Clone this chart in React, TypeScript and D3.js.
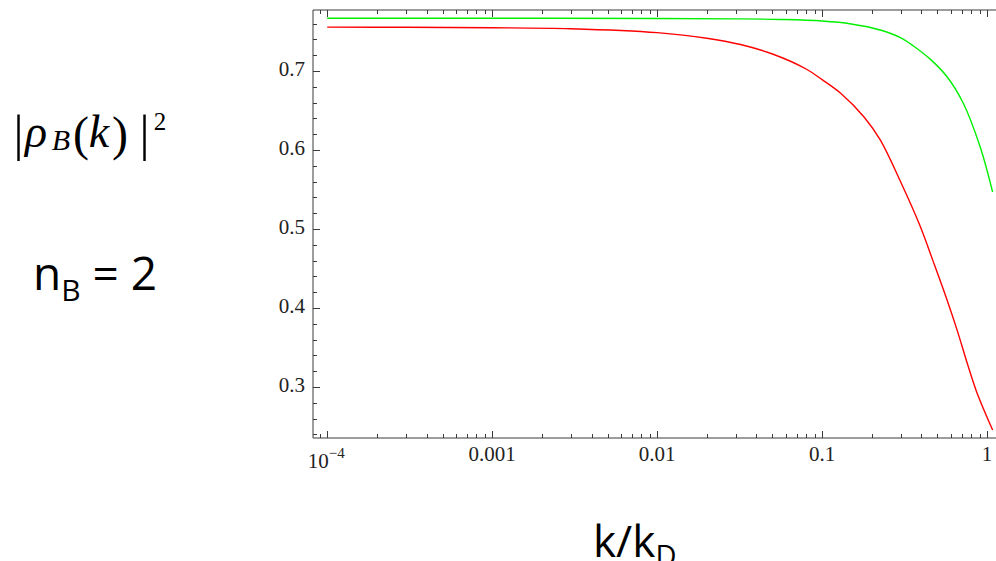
import React from 'react';
import * as d3 from 'd3';

// ---- data ----
const xMajorTicks = [1e-4, 1e-3, 1e-2, 1e-1, 1];
const xMajorLabels = ['10^-4', '0.001', '0.01', '0.1', '1'];
const yMajorTicks = [0.3, 0.4, 0.5, 0.6, 0.7];
const yMajorLabels = ['0.3', '0.4', '0.5', '0.6', '0.7'];

const kRed = [1e-4, 3e-4, 1e-3, 3e-3, 1e-2, 2e-2, 3.2e-2, 5e-2, 8e-2, 0.1, 0.13, 0.18, 0.225, 0.297, 0.393, 0.471, 0.573, 0.658, 0.757, 0.869, 1.08];
const rhoRed = [0.7555, 0.7553, 0.7548, 0.7535, 0.7485, 0.7415, 0.7335, 0.7215, 0.7025, 0.689, 0.6715, 0.6415, 0.6127, 0.561, 0.5035, 0.459, 0.4095, 0.372, 0.3304, 0.2924, 0.2456];

const kGreen = [1e-4, 1e-3, 1e-2, 3e-2, 5.6e-2, 0.1, 0.15, 0.225, 0.3, 0.356, 0.452, 0.573, 0.716, 0.908, 1.08];
const rhoGreen = [0.7667, 0.7667, 0.7665, 0.766, 0.7652, 0.7632, 0.7595, 0.7519, 0.742, 0.732, 0.715, 0.6924, 0.6595, 0.6038, 0.5468];

const xDomain = [8.2e-5, 1.32];
const yDomain = [0.2354, 0.7772];

const W = 996;
const H = 561;
const PL = 313, PR = 1007, PT = 10, PB = 438;

const AXIS = '#3a3a3a';
const TICK_FONT = '"Liberation Serif", "Times New Roman", serif';
const MATH_FONT = '"Liberation Serif", "DejaVu Serif", serif';
const SANS = '"Open Sans", "Noto Sans", sans-serif';

export default function App() {
  const x = d3.scaleLog().domain(xDomain).range([PL, PR]);
  const y = d3.scaleLinear().domain(yDomain).range([PB, PT]);

  const line = d3
    .line<[number, number]>()
    .x((d) => x(d[0]))
    .y((d) => y(d[1]))
    .curve(d3.curveCatmullRom.alpha(0.5));

  const redPts: [number, number][] = kRed.map((k, i) => [k, rhoRed[i]]);
  const greenPts: [number, number][] = kGreen.map((k, i) => [k, rhoGreen[i]]);

  const xAll = x.ticks();
  const isXMajor = (v: number) => Math.abs(Math.log10(v) - Math.round(Math.log10(v))) < 1e-9;
  const yAll = d3.ticks(yDomain[0], yDomain[1], 27);
  const isYMajor = (v: number) => Math.abs(v * 10 - Math.round(v * 10)) < 1e-6;

  const MAJ = 7;
  const MIN = 4;

  return (
    <svg
      width={W}
      height={H}
      style={{ position: 'absolute', left: 0, top: 0, background: '#fff' }}
    >
      <rect x={0} y={0} width={W} height={H} fill="#fff" />

      {/* curves */}
      <path d={line(redPts) || ''} fill="none" stroke="#ff0000" strokeWidth={1.4} />
      <path d={line(greenPts) || ''} fill="none" stroke="#00f000" strokeWidth={1.4} />

      {/* frame */}
      <line x1={PL} x2={PL} y1={PT} y2={PB} stroke={AXIS} strokeWidth={1} />
      <line x1={PL} x2={PR} y1={PB} y2={PB} stroke={AXIS} strokeWidth={1} />
      <line x1={PL} x2={PR} y1={PT} y2={PT} stroke={AXIS} strokeWidth={1} />
      <line x1={PR} x2={PR} y1={PT} y2={PB} stroke={AXIS} strokeWidth={1} />

      {/* x ticks bottom & top */}
      {xAll.map((v, i) => {
        const len = isXMajor(v) ? MAJ : MIN;
        const xx = Math.round(x(v)) + 0.5;
        return (
          <g key={'xt' + i}>
            <line x1={xx} x2={xx} y1={PB} y2={PB - len} stroke={AXIS} strokeWidth={1} />
            <line x1={xx} x2={xx} y1={PT} y2={PT + len} stroke={AXIS} strokeWidth={1} />
          </g>
        );
      })}

      {/* y ticks */}
      {yAll.map((v, i) => {
        const len = isYMajor(v) ? MAJ : MIN;
        const yy = Math.round(y(v)) + 0.5;
        return (
          <line key={'yt' + i} x1={PL} x2={PL + len} y1={yy} y2={yy} stroke={AXIS} strokeWidth={1} />
        );
      })}

      {/* x tick labels */}
      {xMajorTicks.map((v, i) => {
        const lab = xMajorLabels[i];
        if (lab.startsWith('10^')) {
          const exp = lab.slice(3).replace('-', '\u2212');
          return (
            <text key={'xl' + i} x={x(v) - 1} y={468} fontFamily={TICK_FONT} fontSize={21} textAnchor="middle" fill="#222">
              10
              <tspan dy={-10} fontSize={15}>{exp}</tspan>
            </text>
          );
        }
        return (
          <text key={'xl' + i} x={x(v)} y={461} fontFamily={TICK_FONT} fontSize={21} textAnchor="middle" fill="#222">
            {lab}
          </text>
        );
      })}

      {/* y tick labels */}
      {yMajorTicks.map((v, i) => (
        <text key={'yl' + i} x={PL - 8} y={y(v) + 5} fontFamily={TICK_FONT} fontSize={21} textAnchor="end" fill="#222">
          {yMajorLabels[i]}
        </text>
      ))}

      {/* y label: |rho_B(k)|^2 */}
      <g fontFamily={MATH_FONT} fill="#000" textAnchor="middle">
        <text x={18.5} y={150} fontSize={50}>|</text>
        <text x={36} y={147} fontSize={46} fontStyle="italic">ρ</text>
        <text x={61} y={150} fontSize={30} fontStyle="italic">B</text>
        <text x={81} y={150} fontSize={48}>(</text>
        <text x={99} y={147} fontSize={46} fontStyle="italic">k</text>
        <text x={120} y={150} fontSize={48}>)</text>
        <text x={144.5} y={150} fontSize={50}>|</text>
        <text x={160} y={130} fontSize={25}>2</text>
      </g>

      {/* n_B = 2 */}
      <text x={33} y={290} fontFamily={SANS} fontSize={46} fill="#000">
        n<tspan fontSize={30} dy={11}>B</tspan>
        <tspan dy={-11}> = 2</tspan>
      </text>

      {/* x label */}
      <text x={593} y={557} fontFamily={SANS} fontSize={44} fill="#000">
        k/k<tspan fontSize={29} dy={9}>D</tspan>
      </text>
    </svg>
  );
}
